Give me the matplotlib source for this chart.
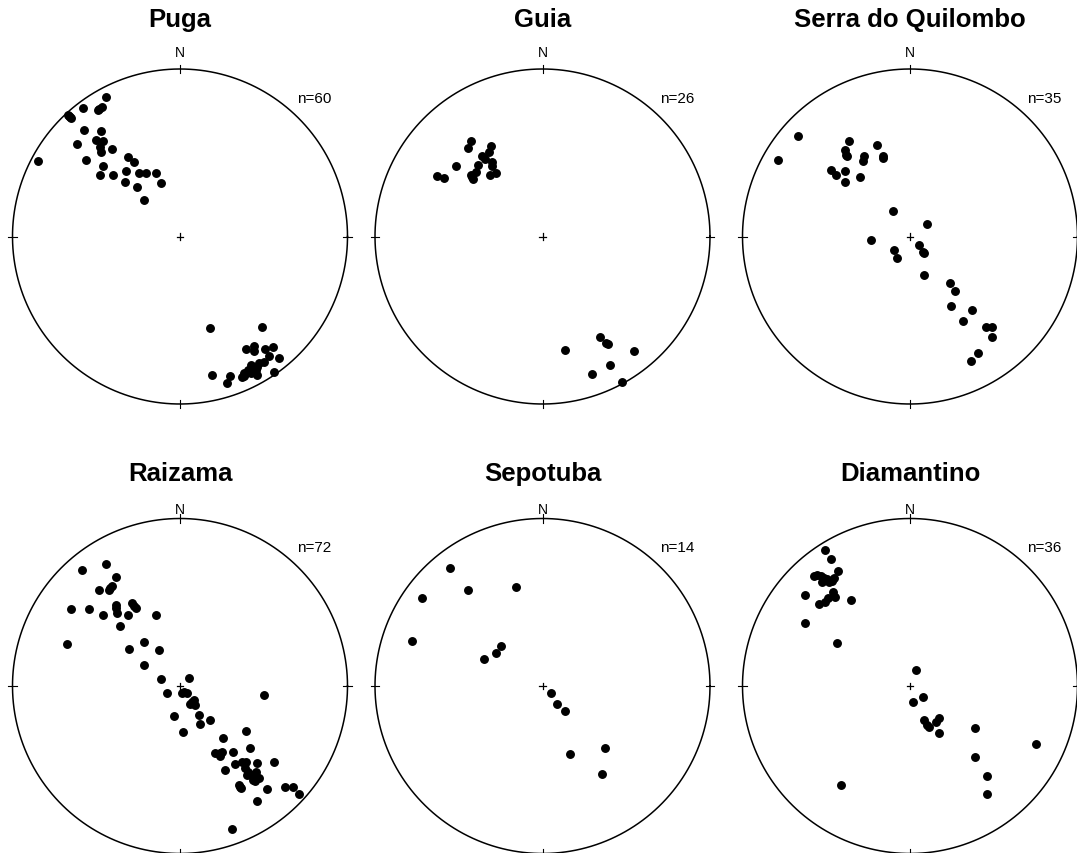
import matplotlib
matplotlib.use('Agg')
import matplotlib.pyplot as plt
import numpy as np

# pole positions in stereonet units (x = east, y = north, unit circle)
puga_x = [-0.442, -0.578, -0.466, -0.490, -0.667, -0.653, -0.659, -0.572, -0.472, -0.502,
          -0.458, -0.614, -0.478, -0.472, -0.406, -0.847, -0.562, -0.311, -0.277, -0.462,
          -0.478, -0.398, -0.321, -0.245, -0.201, -0.141, -0.116, -0.327, -0.259, -0.217,
          0.177, 0.490, 0.392, 0.442, 0.442, 0.508, 0.554, 0.532, 0.590, 0.472,
          0.462, 0.432, 0.412, 0.392, 0.382, 0.442, 0.462, 0.371, 0.562, 0.191,
          0.301, 0.281, 0.422, 0.452, 0.406, 0.426, 0.382, -0.663, -0.482, 0.502]
puga_y = [0.833, 0.767, 0.773, 0.753, 0.725, 0.705, 0.715, 0.637, 0.629, 0.578,
          0.572, 0.552, 0.532, 0.502, 0.522, 0.448, 0.454, 0.474, 0.442, 0.418,
          0.367, 0.369, 0.394, 0.378, 0.378, 0.378, 0.321, 0.325, 0.293, 0.217,
          -0.546, -0.540, -0.671, -0.653, -0.681, -0.669, -0.657, -0.711, -0.727, -0.753,
          -0.777, -0.787, -0.801, -0.813, -0.833, -0.807, -0.827, -0.841, -0.807, -0.827,
          -0.833, -0.873, -0.817, -0.797, -0.797, -0.767, -0.817, 0.719, 0.759, -0.747]

guia_x = [-0.425, -0.445, -0.310, -0.318, -0.362, -0.344, -0.302, -0.386, -0.302, -0.517,
          -0.398, -0.429, -0.414, -0.314, -0.278, -0.628, -0.588, -0.423,
          0.342, 0.382, 0.390, 0.133, 0.549, 0.402, 0.294, 0.477]
guia_y = [0.569, 0.527, 0.539, 0.507, 0.479, 0.463, 0.447, 0.427, 0.419, 0.419,
          0.386, 0.370, 0.346, 0.370, 0.380, 0.364, 0.352, 0.358,
          -0.598, -0.634, -0.640, -0.680, -0.685, -0.769, -0.819, -0.871]

serra_x = [-0.668, -0.787, -0.366, -0.386, -0.374, -0.195, -0.274, -0.282, -0.159, -0.159,
           -0.469, -0.441, -0.390, -0.298, -0.390, -0.103, 0.101, -0.235, -0.095, -0.076,
           0.052, 0.076, 0.084, 0.084, 0.237, 0.271, 0.243, 0.370, 0.318, 0.455,
           0.489, 0.491, 0.406, 0.366, -0.380]
serra_y = [0.602, 0.455, 0.573, 0.517, 0.481, 0.545, 0.481, 0.453, 0.481, 0.469,
           0.396, 0.368, 0.392, 0.354, 0.326, 0.153, 0.072, -0.018, -0.078, -0.127,
           -0.050, -0.093, -0.097, -0.229, -0.276, -0.324, -0.415, -0.439, -0.505, -0.539,
           -0.539, -0.600, -0.696, -0.744, 0.489]

raizama_x = [-0.584, -0.440, -0.380, -0.483, -0.424, -0.408, -0.649, -0.543, -0.384, -0.380,
             -0.376, -0.285, -0.265, -0.459, -0.313, -0.356, -0.143, -0.673, -0.305, -0.214,
             -0.123, -0.214, -0.115, 0.055, -0.075, 0.012, 0.044, 0.083, 0.059, 0.091,
             0.111, 0.119, 0.178, -0.036, 0.016, 0.501, 0.396, 0.257, 0.208, 0.238,
             0.253, 0.317, 0.416, 0.327, 0.372, 0.459, 0.564, 0.269, 0.406, 0.426,
             0.455, 0.436, 0.471, 0.446, 0.356, 0.366, 0.519, 0.624, 0.673, 0.713,
             0.462, 0.309, 0.396, 0.400, 0.455, 0.386, 0.352, 0.024, 0.069, 0.238,
             -0.273, -0.416]
raizama_y = [0.693, 0.727, 0.653, 0.572, 0.574, 0.598, 0.457, 0.457, 0.485, 0.465,
             0.436, 0.493, 0.463, 0.424, 0.424, 0.356, 0.424, 0.248, 0.222, 0.265,
             0.212, 0.123, 0.040, 0.050, -0.040, -0.042, -0.040, -0.085, -0.105, -0.115,
             -0.174, -0.224, -0.202, -0.182, -0.275, -0.053, -0.269, -0.313, -0.402, -0.416,
             -0.392, -0.392, -0.372, -0.467, -0.455, -0.457, -0.451, -0.503, -0.511, -0.531,
             -0.541, -0.560, -0.550, -0.570, -0.600, -0.606, -0.616, -0.602, -0.602, -0.644,
             -0.689, -0.853, -0.451, -0.531, -0.511, -0.491, -0.590, -0.036, -0.095, -0.400,
             0.479, 0.586]

sepotuba_x = [-0.553, -0.720, -0.447, -0.159, -0.777, -0.245, -0.278, -0.352, 0.050, 0.087,
              0.135, 0.374, 0.167, 0.354]
sepotuba_y = [0.706, 0.525, 0.571, 0.594, 0.266, 0.239, 0.197, 0.163, -0.040, -0.105,
              -0.147, -0.372, -0.406, -0.525]

diamantino_x = [-0.507, -0.473, -0.427, -0.573, -0.533, -0.513, -0.493, -0.453, -0.525, -0.485,
                -0.628, -0.457, -0.445, -0.489, -0.505, -0.541, -0.354, -0.626, -0.435, 0.038,
                0.078, 0.020, 0.084, 0.103, 0.111, 0.157, 0.175, 0.171, 0.388, 0.755,
                0.386, 0.459, 0.459, -0.413, -0.553, -0.467]
diamantino_y = [0.811, 0.761, 0.688, 0.654, 0.656, 0.646, 0.636, 0.646, 0.622, 0.618,
                0.543, 0.563, 0.533, 0.523, 0.499, 0.487, 0.511, 0.376, 0.254, 0.093,
                -0.064, -0.095, -0.205, -0.233, -0.243, -0.213, -0.193, -0.282, -0.248, -0.348,
                -0.423, -0.537, -0.646, -0.592, 0.661, 0.628]

titles = ['Puga', 'Guia', 'Serra do Quilombo', 'Raizama', 'Sepotuba', 'Diamantino']
xs = [puga_x, guia_x, serra_x, raizama_x, sepotuba_x, diamantino_x]
ys = [puga_y, guia_y, serra_y, raizama_y, sepotuba_y, diamantino_y]

W, H = 1077, 854
fig = plt.figure(figsize=(W / 100, H / 100), dpi=100)
plt.rcParams['font.family'] = ['Liberation Sans', 'DejaVu Sans']

centers = [(180, 237.5), (542.5, 237.5), (910, 237.5),
           (180, 687), (542.5, 687), (910, 687)]
# label offsets per row (top row, bottom row)
title_y = [1.257, 1.257, 1.257, 1.23, 1.23, 1.23]
north_y = [1.075, 1.075, 1.075, 1.03, 1.03, 1.03]
R = 167.5
half = 1.12 * R

t = np.linspace(0, 2 * np.pi, 400)
for i, ((cx, cy), name, px, py) in enumerate(zip(centers, titles, xs, ys)):
    ax = fig.add_axes([(cx - half) / W, (H - cy - half) / H, 2 * half / W, 2 * half / H])
    ax.set_xlim(-1.12, 1.12)
    ax.set_ylim(-1.12, 1.12)
    ax.set_aspect('equal')
    ax.axis('off')
    # primitive circle
    ax.plot(np.cos(t), np.sin(t), color='black', lw=1.1, clip_on=False)
    # cardinal ticks
    tk = 0.025
    ax.plot([0, 0], [1 - tk, 1 + tk], color='black', lw=0.8)
    ax.plot([0, 0], [-1 - tk, -1 + tk], color='black', lw=0.8)
    ax.plot([1 - tk, 1 + tk], [0, 0], color='black', lw=0.8)
    ax.plot([-1 - tk, -1 + tk], [0, 0], color='black', lw=0.8)
    # centre cross
    c = 0.02
    ax.plot([-c, c], [0, 0], color='black', lw=0.9)
    ax.plot([0, 0], [-c, c], color='black', lw=0.9)
    # poles
    ax.plot(px, py, 'o', color='black', markersize=5.4, clip_on=False)
    ax.text(0, north_y[i], 'N', ha='center', va='baseline', fontsize=10)
    ax.text(0.803, 0.803, 'n=%d' % len(px), ha='center', va='baseline', fontsize=11)
    ax.text(0, title_y[i], name, ha='center', va='baseline', fontsize=18.5, fontweight='bold')

fig.savefig('out.png', dpi=100)
